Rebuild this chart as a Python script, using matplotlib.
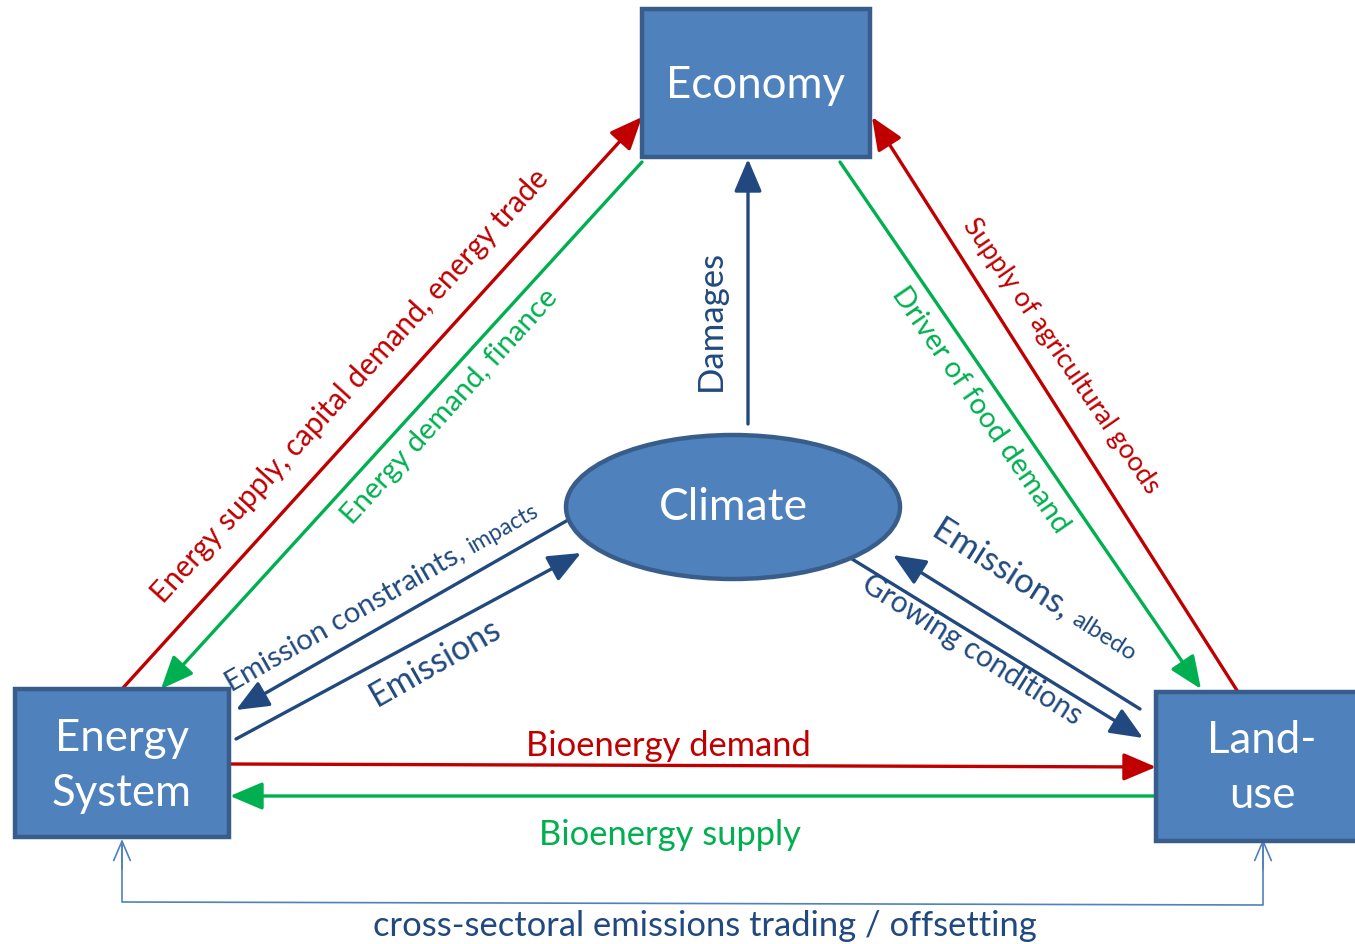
import math

import matplotlib

matplotlib.use("Agg")
import matplotlib.pyplot as plt
from matplotlib.patches import Ellipse, FancyArrowPatch, Rectangle

plt.rcParams["font.family"] = ["Lato", "DejaVu Sans"]

# node labels
BOX_NODES = ["Economy", "Energy\nSystem", "Land-\nuse"]
ELLIPSE_NODE = "Climate"

# link labels (text, small suffix)
LINK_TEXTS = [
    ("Energy supply, capital demand, energy trade", ""),
    ("Energy demand, finance", ""),
    ("Damages", ""),
    ("Driver of food demand", ""),
    ("Supply of agricultural goods", ""),
    ("Emission constraints, ", "impacts"),
    ("Emissions", ""),
    ("Emissions, ", "albedo"),
    ("Growing conditions", ""),
    ("Bioenergy demand", ""),
    ("Bioenergy supply", ""),
    ("cross-sectoral emissions trading / offsetting", ""),
]

RED = "#C00000"
GREEN = "#00B050"
NAVY = "#21497F"
FILL = "#4F81BD"
EDGE = "#385D8A"

# layout (pixel coordinates, y down)
box_geom = [(642, 10, 228, 148), (15, 690, 214, 148), (1156, 693, 215, 149)]
box_text_pos = [(756, 86), (122, 766), (1262, 768)]
ell_geom = (733, 508, 334, 144)

# arrows: start, end, colour
arrows = [
    ((122, 690), (642, 118), RED),
    ((642, 163), (161, 690), GREEN),
    ((748, 425), (748, 160), NAVY),
    ((840, 163), (1201, 690), GREEN),
    ((1238, 693), (872, 118), RED),
    ((568, 521), (236, 711), NAVY),
    ((236, 740), (581, 554), NAVY),
    ((1140, 710), (893, 556), NAVY),
    ((852, 560), (1143, 739), NAVY),
    ((229, 765), (1156, 768), RED),
    ((1156, 797), (230, 797), GREEN),
]

# label placement: centre, angle, colour, size, small size
label_geom = [
    ((350, 386), 47.7, RED, 21.3, 0),
    ((450, 407), 47.7, GREEN, 21, 0),
    ((711, 320), 90, NAVY, 25, 0),
    ((980, 410), -55.5, GREEN, 21, 0),
    ((1061, 356), -55.5, RED, 19.3, 0),
    ((389, 597), 29.7, NAVY, 21.2, 16.5),
    ((435, 662), 29.7, NAVY, 24.4, 0),
    ((1026, 590), -32.5, NAVY, 24.8, 17.5),
    ((972, 650), -32.5, NAVY, 21.4, 0),
    ((668, 746), 0, RED, 24.8, 0),
    ((670, 835), 0, GREEN, 24.8, 0),
    ((705, 926), 0, NAVY, 24.8, 0),
]

fig = plt.figure(figsize=(13.55, 9.45), dpi=100)
ax = fig.add_axes([0, 0, 1, 1])
ax.set_xlim(0, 1355)
ax.set_ylim(945, 0)
ax.axis("off")
renderer = fig.canvas.get_renderer()

for (x, y, w, h), label, (tx, ty) in zip(box_geom, BOX_NODES, box_text_pos):
    ax.add_patch(Rectangle((x, y), w, h, facecolor=FILL, edgecolor=EDGE, lw=3.2, zorder=3))
    ax.text(tx, ty, label, color="white", fontsize=31.5, ha="center", va="center",
            linespacing=1.4, zorder=4)

cx, cy, ew, eh = ell_geom
ax.add_patch(Ellipse((cx, cy), ew, eh, facecolor=FILL, edgecolor=EDGE, lw=3.2, zorder=3))
ax.text(cx, cy, ELLIPSE_NODE, color="white", fontsize=32, ha="center", va="center", zorder=4)

for start, end, col in arrows:
    ax.add_patch(FancyArrowPatch(start, end, arrowstyle="-|>,head_length=20,head_width=8.5",
                                 color=col, lw=2.4, shrinkA=0, shrinkB=0,
                                 mutation_scale=1, zorder=2))

# cross-sectoral trading link
ax.plot([122, 122, 1263, 1263], [846, 903, 906, 846], color=FILL, lw=1.2, zorder=1)
for xa in (122, 1263):
    ax.add_patch(FancyArrowPatch((xa, 870), (xa, 840), arrowstyle="->,head_length=14,head_width=6",
                                 color=FILL, lw=1.2, shrinkA=0, shrinkB=0, mutation_scale=1))


def text_width(s, size):
    t = ax.text(0, 0, s, fontsize=size)
    w = t.get_window_extent(renderer).width
    t.remove()
    return w


for (big, small), ((x, y), ang, col, size, ssize) in zip(LINK_TEXTS, label_geom):
    if not small:
        ax.text(x, y, big, rotation=ang, rotation_mode="anchor", ha="center", va="center",
                color=col, fontsize=size)
        continue
    w1 = text_width(big, size)
    w2 = text_width(small, ssize)
    c, s = math.cos(math.radians(ang)), math.sin(math.radians(ang))
    # baseline start so the pair is centred, shifted down by about half a cap height
    off = size * 0.35
    x0 = x - (w1 + w2) / 2 * c - off * s
    y0 = y + (w1 + w2) / 2 * s + off * c
    ax.text(x0, y0, big, rotation=ang, rotation_mode="anchor", ha="left", va="baseline",
            color=col, fontsize=size)
    ax.text(x0 + w1 * c, y0 - w1 * s, small, rotation=ang, rotation_mode="anchor",
            ha="left", va="baseline", color=col, fontsize=ssize)

fig.savefig("out.png", dpi=100)
